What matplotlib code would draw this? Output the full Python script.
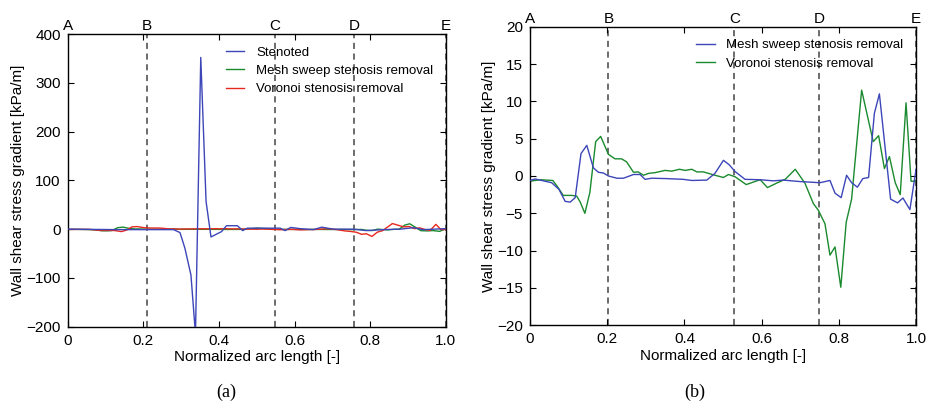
"""
Wall shear stress gradient along the normalized arc length, panels (a) and (b)
"""
import matplotlib
matplotlib.use('Agg')
import matplotlib.pyplot as plt
import matplotlib.transforms as mtransforms

plt.rcParams['font.family'] = ['Liberation Sans', 'DejaVu Sans']
plt.rcParams['font.size'] = 11
plt.rcParams['xtick.direction'] = 'in'
plt.rcParams['ytick.direction'] = 'in'
plt.rcParams['xtick.top'] = True
plt.rcParams['ytick.right'] = True
plt.rcParams['axes.unicode_minus'] = True

# stenosed vessel (panel a)
sten_x = [0, 0.13, 0.19, 0.28, 0.297, 0.31, 0.326, 0.338, 0.352, 0.366, 0.379, 0.407,
          0.42, 0.449, 0.463, 0.475, 0.526, 0.562, 0.575, 0.59, 0.615, 0.65, 0.672,
          0.703, 0.756, 0.79, 0.835, 0.88, 0.915, 0.94, 1.0]
sten_y = [0, -1, -1, -1, -7, -39, -94, -215, 352, 57, -16, -5,
          7, 7, -3, 2, 2, 2, -3, 3.5, 1, -1, 4,
          0, 0, -3, -1, 0, 3, -1, 1]

# mesh sweep stenosis removal
mesh_x = [0, 0.013, 0.056, 0.075, 0.091, 0.104, 0.117, 0.132, 0.147, 0.164, 0.177, 0.19,
          0.203, 0.225, 0.242, 0.268, 0.285, 0.298, 0.315, 0.354, 0.397, 0.419, 0.458,
          0.479, 0.501, 0.516, 0.531, 0.557, 0.596, 0.63, 0.656, 0.7, 0.751, 0.777,
          0.79, 0.806, 0.82, 0.833, 0.848, 0.862, 0.877, 0.892, 0.905, 0.934, 0.952,
          0.966, 0.984, 1.0]
mesh_y = [-0.6, -0.4, -0.9, -1.8, -3.4, -3.5, -2.9, 3.0, 4.1, 1.1, 0.5, 0.4,
          0.0, -0.3, -0.3, 0.2, 0.2, -0.45, -0.3, -0.35, -0.45, -0.6, -0.55,
          0.35, 2.1, 1.5, 0.6, -0.45, -0.5, -0.65, -0.55, -0.75, -0.9, -0.6,
          -2.3, -2.9, 0.1, -0.9, -1.5, -0.35, -0.2, 8.4, 11.0, -3.1, -3.6,
          -2.95, -4.5, 0.9]

# voronoi stenosis removal
vor_x = [0, 0.026, 0.059, 0.072, 0.086, 0.108, 0.121, 0.13, 0.142, 0.155, 0.17, 0.183,
         0.203, 0.22, 0.237, 0.25, 0.268, 0.28, 0.294, 0.307, 0.324, 0.35, 0.367,
         0.387, 0.402, 0.419, 0.432, 0.449, 0.479, 0.501, 0.514, 0.531, 0.56, 0.596,
         0.615, 0.639, 0.661, 0.687, 0.712, 0.734, 0.747, 0.764, 0.777, 0.79, 0.805,
         0.819, 0.833, 0.859, 0.889, 0.903, 0.918, 0.931, 0.946, 0.959, 0.974, 0.987, 1.0]
vor_y = [-0.7, -0.5, -0.6, -1.5, -2.6, -2.6, -2.7, -3.5, -5.0, -2.2, 4.6, 5.3,
         2.9, 2.3, 2.3, 1.9, 0.5, 0.55, 0.1, 0.35, 0.45, 0.75, 0.65,
         0.9, 0.75, 0.9, 0.55, 0.55, 0.1, -0.2, 0.2, -0.1, -1.15, -0.5,
         -1.55, -0.95, -0.45, 0.9, -0.95, -3.7, -4.6, -6.4, -10.6, -9.5, -14.9,
         -6.2, -3.1, 11.5, 4.6, 5.4, 1.0, 2.6, -0.9, -2.5, 9.8, -0.7, -0.7]

marks = ['A', 'B', 'C', 'D', 'E']
marks_a = [0, 0.21, 0.548, 0.757, 1.0]
marks_b = [0, 0.203, 0.529, 0.748, 1.0]

blue = '#3c46b8'
green = '#1a8a2e'
red = '#e8281e'

fig = plt.figure(figsize=(9.34, 4.03), dpi=100)
ax1 = fig.add_axes([0.0725, 0.1893, 0.4047, 0.7263])
ax2 = fig.add_axes([0.5675, 0.1928, 0.4133, 0.7410])


def decorate(ax, pos, ylim, yticks):
    for p in pos:
        ax.axvline(p, color='#444444', linestyle='--', linewidth=1.1, dashes=(4, 3), zorder=1)
    trans = mtransforms.blended_transform_factory(ax.transData, ax.transAxes)
    for m, p in zip(marks, pos):
        ax.text(p, 1.003, m, transform=trans, ha='center', va='bottom', fontsize=11)
    ax.set_xlim(0, 1)
    ax.set_ylim(*ylim)
    ax.set_xticks([0, 0.2, 0.4, 0.6, 0.8, 1.0])
    ax.set_xticklabels(['0', '0.2', '0.4', '0.6', '0.8', '1.0'])
    ax.set_yticks(yticks)
    ax.tick_params(length=4, width=0.8, pad=5)
    ax.set_xlabel('Normalized arc length [-]', labelpad=2)
    ax.set_ylabel('Wall shear stress gradient [kPa/m]', labelpad=1)
    for s in ax.spines.values():
        s.set_linewidth(1.0)


ax1.plot(sten_x, sten_y, color=blue, linewidth=1.0, label='Stenoted', zorder=3)
ax1.plot(mesh_x, mesh_y, color=green, linewidth=1.0, label='Mesh sweep stenosis removal', zorder=2)
ax1.plot(vor_x, vor_y, color=red, linewidth=1.0, label='Voronoi stenosis removal', zorder=2)
decorate(ax1, marks_a, (-200, 400), [-200, -100, 0, 100, 200, 300, 400])
ax1.legend(loc='upper right', frameon=False, fontsize=9.5, handlelength=1.4,
           handletextpad=0.9, labelspacing=0.45, borderaxespad=0.55)

ax2.plot(mesh_x, mesh_y, color=blue, linewidth=1.0, label='Mesh sweep stenosis removal', zorder=3)
ax2.plot(vor_x, vor_y, color=green, linewidth=1.0, label='Voronoi stenosis removal', zorder=2)
decorate(ax2, marks_b, (-20, 20), [-20, -15, -10, -5, 0, 5, 10, 15, 20])
ax2.legend(loc='upper right', frameon=False, fontsize=9.5, handlelength=1.4,
           handletextpad=0.9, labelspacing=0.45, borderaxespad=0.55)

fig.text(0.2425, 0.027, '(a)', family=['Liberation Serif', 'DejaVu Serif'], fontsize=13,
         ha='center', va='center')
fig.text(0.744, 0.027, '(b)', family=['Liberation Serif', 'DejaVu Serif'], fontsize=13,
         ha='center', va='center')

fig.savefig('out.png', dpi=100)
